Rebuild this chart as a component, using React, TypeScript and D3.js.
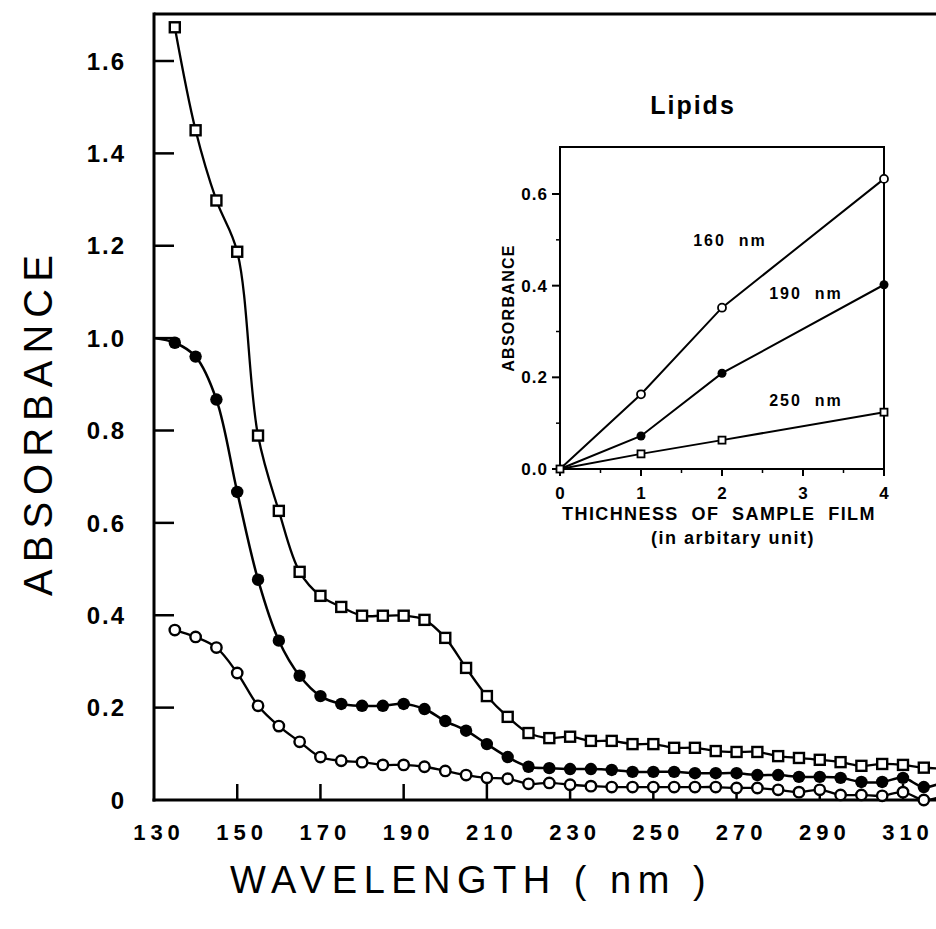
import React from "react";
import * as d3 from "d3";

// ---------- Main chart data ----------
const wavelengths = [130, 135, 140, 145, 150, 155, 160, 165, 170, 175, 180, 185, 190, 195, 200, 205, 210, 215, 220, 225, 230, 235, 240, 245, 250, 255, 260, 265, 270, 275, 280, 285, 290, 295, 300, 305, 310, 315, 320];
const squareSeries = [null, 1.673, 1.45, 1.298, 1.187, 0.789, 0.626, 0.494, 0.442, 0.418, 0.399, 0.399, 0.399, 0.39, 0.351, 0.286, 0.225, 0.18, 0.145, 0.134, 0.137, 0.128, 0.128, 0.121, 0.121, 0.113, 0.113, 0.106, 0.104, 0.104, 0.095, 0.091, 0.087, 0.082, 0.074, 0.078, 0.076, 0.07, 0.068];
const filledSeries = [1.0, 0.99, 0.96, 0.867, 0.667, 0.477, 0.345, 0.269, 0.225, 0.208, 0.204, 0.204, 0.208, 0.197, 0.171, 0.15, 0.121, 0.093, 0.072, 0.069, 0.067, 0.067, 0.065, 0.061, 0.061, 0.061, 0.058, 0.058, 0.058, 0.054, 0.054, 0.05, 0.05, 0.048, 0.039, 0.039, 0.048, 0.028, 0.04];
const openSeries = [null, 0.368, 0.353, 0.33, 0.275, 0.204, 0.16, 0.126, 0.093, 0.085, 0.082, 0.076, 0.076, 0.072, 0.063, 0.054, 0.048, 0.046, 0.035, 0.037, 0.033, 0.03, 0.028, 0.028, 0.028, 0.028, 0.028, 0.028, 0.026, 0.026, 0.022, 0.017, 0.022, 0.011, 0.011, 0.009, 0.017, 0.0, 0.01];
const xTickValues = [130, 150, 170, 190, 210, 230, 250, 270, 290, 310];
const yTickValues = [0, 0.2, 0.4, 0.6, 0.8, 1.0, 1.2, 1.4, 1.6];
const yTickLabels = ["0", "0.2", "0.4", "0.6", "0.8", "1.0", "1.2", "1.4", "1.6"];

// ---------- Inset data ----------
const thickness = [0, 1, 2, 4];
const inset160 = [0, 0.163, 0.352, 0.633];
const inset190 = [0, 0.072, 0.209, 0.402];
const inset250 = [0, 0.033, 0.063, 0.124];
const insetXTicks = [0, 1, 2, 3, 4];
const insetXMinor = [0.5, 1.5, 2.5, 3.5];
const insetYTicks = [0, 0.2, 0.4, 0.6];
const insetYTickLabels = ["0.0", "0.2", "0.4", "0.6"];
const insetYMinor = [0.1, 0.3, 0.5];
const insetLabels = ["160  nm", "190  nm", "250  nm"];

const FONT = "'Liberation Sans', Arial, Helvetica, sans-serif";
const PRE = { whiteSpace: "pre" as const };

type Pt = { x: number; y: number };

function buildPts(xs: number[], ys: (number | null)[]): Pt[] {
  const out: Pt[] = [];
  xs.forEach((x, i) => {
    const y = ys[i];
    if (y !== null && y !== undefined) out.push({ x, y });
  });
  return out;
}

export default function App() {
  const W = 936;
  const H = 929;
  // main scales
  const x = d3.scaleLinear().domain([130, 310]).range([154, 903]);
  const y = d3.scaleLinear().domain([0, 1.6]).range([800, 61]);
  const topY = 14;

  const line = d3
    .line<Pt>()
    .x((d) => x(d.x))
    .y((d) => y(d.y))
    .curve(d3.curveCatmullRom.alpha(0.5));

  const sq = buildPts(wavelengths, squareSeries);
  const fi = buildPts(wavelengths, filledSeries);
  const op = buildPts(wavelengths, openSeries);

  // inset scales
  const ix = d3.scaleLinear().domain([0, 4]).range([560, 884]);
  const iy = d3.scaleLinear().domain([0, 0.6]).range([469, 194]);
  const insetTop = 147;
  const iline = d3
    .line<Pt>()
    .x((d) => ix(d.x))
    .y((d) => iy(d.y));
  const i160 = buildPts(thickness, inset160);
  const i190 = buildPts(thickness, inset190);
  const i250 = buildPts(thickness, inset250);

  const mk = 10;
  const imk = 7;

  return (
    <svg
      width={W}
      height={H}
      style={{ position: "absolute", left: 0, top: 0, background: "#fff" }}
      fontFamily={FONT}
    >
      <defs>
        <clipPath id="plotClip">
          <rect x={150} y={0} width={W - 150} height={812} />
        </clipPath>
      </defs>
      <rect x={0} y={0} width={W} height={H} fill="#fff" />

      {/* axes frame */}
      <line x1={154} x2={W} y1={topY} y2={topY} stroke="#000" strokeWidth={3} />
      <line x1={154} x2={154} y1={topY - 1.5} y2={801.5} stroke="#000" strokeWidth={3} />
      <line x1={152.5} x2={W} y1={800} y2={800} stroke="#000" strokeWidth={3} />

      {/* y ticks */}
      {yTickValues.map((v, i) => (
        <g key={"yt" + i}>
          {v > 0 && <line x1={154} x2={174} y1={y(v)} y2={y(v)} stroke="#000" strokeWidth={2.5} />}
          <text
            x={126}
            y={y(v)}
            dy="0.36em"
            textAnchor="end"
            fontSize={24}
            fontWeight="bold"
            letterSpacing={2}
          >
            {yTickLabels[i]}
          </text>
        </g>
      ))}

      {/* x ticks */}
      {xTickValues.map((v, i) => (
        <g key={"xt" + i}>
          {v > 130 && <line x1={x(v)} x2={x(v)} y1={800} y2={784} stroke="#000" strokeWidth={2.5} />}
          <text
            x={x(v) + 5}
            y={840}
            textAnchor="middle"
            fontSize={22}
            fontWeight="bold"
            letterSpacing={5}
          >
            {v}
          </text>
        </g>
      ))}

      {/* axis titles */}
      <text
        transform={`translate(52, 422) rotate(-90)`}
        textAnchor="middle"
        fontSize={40}
        letterSpacing={7}
      >
        ABSORBANCE
      </text>
      <text x={471} y={893} textAnchor="middle" fontSize={38} letterSpacing={6.5} style={PRE}>
        {"WAVELENGTH ( nm )"}
      </text>

      {/* series */}
      <g clipPath="url(#plotClip)">
        <path d={line(sq) || ""} fill="none" stroke="#000" strokeWidth={2.3} />
        <path d={line(fi) || ""} fill="none" stroke="#000" strokeWidth={2.5} />
        <path d={line(op) || ""} fill="none" stroke="#000" strokeWidth={2.3} />
        {sq.map((d, i) => (
          <rect
            key={"s" + i}
            x={x(d.x) - mk / 2}
            y={y(d.y) - mk / 2}
            width={mk}
            height={mk}
            fill="#fff"
            stroke="#000"
            strokeWidth={2.4}
          />
        ))}
        {fi
          .filter((d) => d.x >= 135)
          .map((d, i) => (
            <circle key={"f" + i} cx={x(d.x)} cy={y(d.y)} r={6.2} fill="#000" />
          ))}
        {op.map((d, i) => (
          <circle
            key={"o" + i}
            cx={x(d.x)}
            cy={y(d.y)}
            r={5.2}
            fill="#fff"
            stroke="#000"
            strokeWidth={2.4}
          />
        ))}
      </g>

      {/* ---------- Inset ---------- */}
      <text x={693} y={114} textAnchor="middle" fontSize={25} fontWeight="bold" letterSpacing={2}>
        Lipids
      </text>
      <rect
        x={ix(0)}
        y={insetTop}
        width={ix(4) - ix(0)}
        height={iy(0) - insetTop}
        fill="#fff"
        stroke="#000"
        strokeWidth={2}
      />
      {insetYTicks.map((v, i) => (
        <g key={"iyt" + i}>
          <line x1={ix(0) - 8} x2={ix(0)} y1={iy(v)} y2={iy(v)} stroke="#000" strokeWidth={2} />
          <text x={548} y={iy(v)} dy="0.36em" textAnchor="end" fontSize={17} fontWeight="bold" letterSpacing={1}>
            {insetYTickLabels[i]}
          </text>
        </g>
      ))}
      {insetYMinor.map((v, i) => (
        <line key={"iym" + i} x1={ix(0) - 4} x2={ix(0)} y1={iy(v)} y2={iy(v)} stroke="#000" strokeWidth={1.5} />
      ))}
      {insetXTicks.map((v, i) => (
        <g key={"ixt" + i}>
          <line x1={ix(v)} x2={ix(v)} y1={iy(0)} y2={iy(0) + 7} stroke="#000" strokeWidth={2} />
          <text x={ix(v)} y={499} textAnchor="middle" fontSize={17} fontWeight="bold">
            {v}
          </text>
        </g>
      ))}
      {insetXMinor.map((v, i) => (
        <line key={"ixm" + i} x1={ix(v)} x2={ix(v)} y1={iy(0)} y2={iy(0) + 4} stroke="#000" strokeWidth={1.5} />
      ))}
      <text
        transform={`translate(514, 308) rotate(-90)`}
        textAnchor="middle"
        fontSize={16}
        fontWeight="bold"
        letterSpacing={1.3}
      >
        ABSORBANCE
      </text>
      <text x={719} y={520} textAnchor="middle" fontSize={18} fontWeight="bold" letterSpacing={1.4} style={PRE}>
        {"THICHNESS  OF  SAMPLE  FILM"}
      </text>
      <text x={733} y={544} textAnchor="middle" fontSize={18} fontWeight="bold" letterSpacing={1.5} style={PRE}>
        {"(in arbitary unit)"}
      </text>

      <path d={iline(i160) || ""} fill="none" stroke="#000" strokeWidth={2} />
      <path d={iline(i190) || ""} fill="none" stroke="#000" strokeWidth={2} />
      <path d={iline(i250) || ""} fill="none" stroke="#000" strokeWidth={2} />
      {i250.map((d, i) => (
        <rect
          key={"is" + i}
          x={ix(d.x) - imk / 2}
          y={iy(d.y) - imk / 2}
          width={imk}
          height={imk}
          fill="#fff"
          stroke="#000"
          strokeWidth={1.8}
        />
      ))}
      {i190.slice(1).map((d, i) => (
        <circle key={"if" + i} cx={ix(d.x)} cy={iy(d.y)} r={4.5} fill="#000" />
      ))}
      {i160.slice(1).map((d, i) => (
        <circle key={"io" + i} cx={ix(d.x)} cy={iy(d.y)} r={4} fill="#fff" stroke="#000" strokeWidth={1.8} />
      ))}

      <text x={730} y={iy(0.5)} dy="0.36em" textAnchor="middle" fontSize={16} fontWeight="bold" letterSpacing={2} style={PRE}>
        {insetLabels[0]}
      </text>
      <text x={806} y={iy(0.383)} dy="0.36em" textAnchor="middle" fontSize={16} fontWeight="bold" letterSpacing={2} style={PRE}>
        {insetLabels[1]}
      </text>
      <text x={806} y={iy(0.15)} dy="0.36em" textAnchor="middle" fontSize={16} fontWeight="bold" letterSpacing={2} style={PRE}>
        {insetLabels[2]}
      </text>
    </svg>
  );
}
